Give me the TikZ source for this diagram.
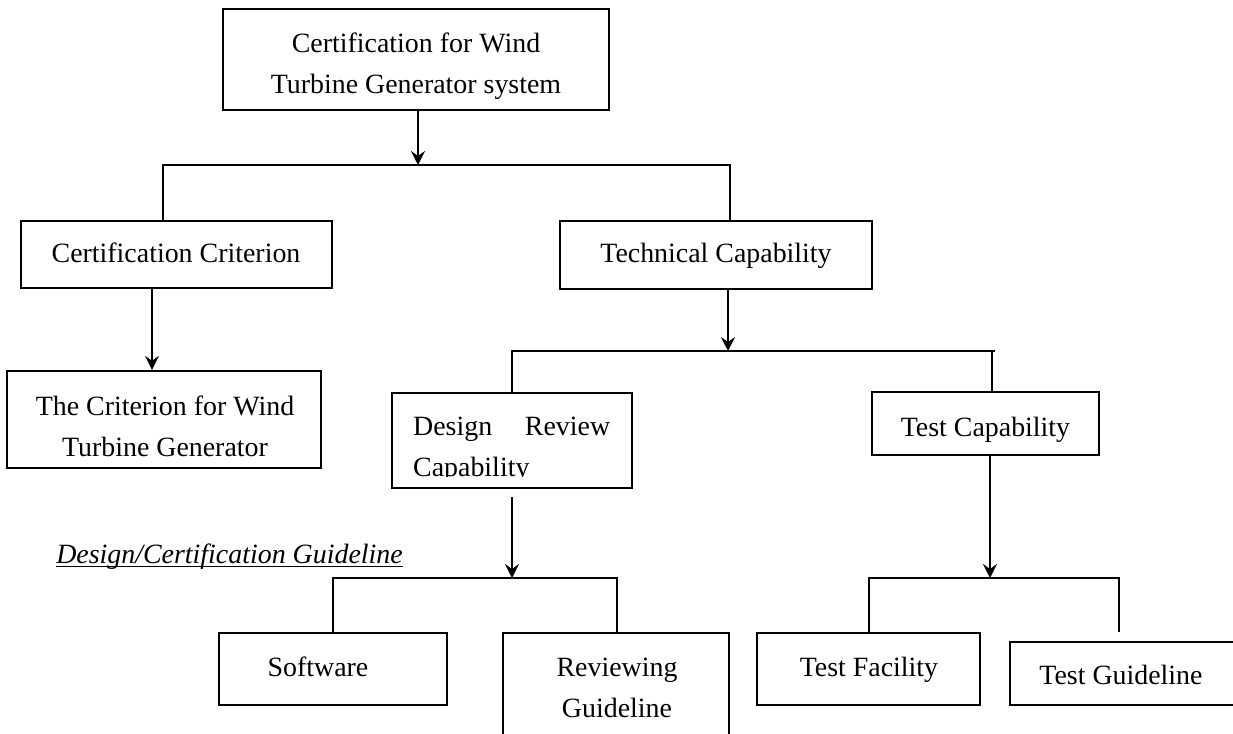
\documentclass[tikz,border=0pt]{standalone}
\usepackage{fontspec}
\setmainfont{Liberation Serif}
\usetikzlibrary{arrows.meta}
\begin{document}
\begin{tikzpicture}[x=1pt,y=-1pt,
  box/.style={draw, line width=2.3pt, inner sep=0pt},
  txt/.style={anchor=base, inner sep=0pt, font=\fontsize{27.9pt}{41pt}\selectfont},
  link/.style={line width=2.3pt},
  arr/.style={line width=2.3pt, -{Stealth[length=14pt,width=14pt,inset=5pt]}}]
\useasboundingbox (0,0) rectangle (1233,733);
\clip (0,0) rectangle (1233,733);

% boxes
\node[box, minimum width=386pt, minimum height=101pt] (top) at (416,59.5) {};
\node[txt] (topt) at (416,53) {\begin{tabular}[t]{@{}c@{}}Certification for Wind\\Turbine Generator system\end{tabular}};

\node[box, minimum width=311pt, minimum height=67pt] (cc) at (176.5,254.5) {};
\node[txt] (cct) at (176,262) {Certification Criterion};

\node[box, minimum width=312pt, minimum height=68pt] (tc) at (716,255) {};
\node[txt] (tct) at (716,262) {Technical Capability};

\node[box, minimum width=314pt, minimum height=97pt] (crit) at (164,419.5) {};
\node[txt] (critt) at (165,415) {\begin{tabular}[t]{@{}c@{}}The Criterion for Wind\\Turbine Generator\end{tabular}};

\node[box, minimum width=240pt, minimum height=95pt] (design) at (512,440.5) {};
\begin{scope}
  \clip (392,393) rectangle (632,476);
  \node[txt, anchor=base west] (designt) at (413,435) {\parbox[t]{197pt}{Design\hfill Review\\Capability}};
\end{scope}

\node[box, minimum width=227pt, minimum height=63pt] (tcap) at (985.5,423.5) {};
\node[txt] (tcapt) at (985.5,436) {Test Capability};

\node[box, minimum width=228pt, minimum height=72pt] (software) at (333,669) {};
\node[txt] (softwaret) at (318,676) {Software};

\node[box, minimum width=226pt, minimum height=127pt] (rev) at (616,696.5) {};
\node[txt] (revt) at (617,676) {\begin{tabular}[t]{@{}c@{}}Reviewing\\Guideline\end{tabular}};

\node[box, minimum width=223pt, minimum height=72pt] (tfac) at (868.5,669) {};
\node[txt] (tfact) at (869,676) {Test Facility};

\node[box, minimum width=240pt, minimum height=63pt] (tguide) at (1130,673.5) {};
\node[txt] (tguidet) at (1121,684) {Test Guideline};

% free label
\node[txt, font=\fontsize{27.9pt}{41pt}\selectfont\itshape] (gl) at (229.5,563) {Design/Certification Guideline};
\draw[line width=1.6pt] ([yshift=-3.5pt]gl.base west) -- ([yshift=-3.5pt]gl.base east);

% junction points
\coordinate (j1) at (418,165);
\coordinate (b1l) at (163,165);
\coordinate (b1r) at (730,165);
\coordinate (c1) at (152,0);
\coordinate (j2) at (728,351);
\coordinate (b2l) at (512,351);
\coordinate (b2r) at (992,351);
\coordinate (b2e) at (995,351);
\coordinate (d0) at (512,497);
\coordinate (j3) at (512,578);
\coordinate (b3l) at (333,578);
\coordinate (b3r) at (617,578);
\coordinate (j4) at (990,578);
\coordinate (b4l) at (869,578);
\coordinate (b4r) at (1119,578);
\coordinate (b4e) at (1119,632);

% connectors
\draw[arr] (top.south -| j1) -- (j1);
\draw[link] (cc.north -| b1l) -- (b1l) -- (b1r) -- (tc.north -| b1r);
\draw[arr] (cc.south -| c1) -- (crit.north -| c1);
\draw[arr] (tc.south -| j2) -- (j2);
\draw[link] (design.north -| b2l) -- (b2l) -- (b2e);
\draw[link] (b2r) -- (tcap.north -| b2r);
\draw[arr] (d0) -- (j3);
\draw[link] (software.north -| b3l) -- (b3l) -- (b3r) -- (rev.north -| b3r);
\draw[arr] (tcap.south -| j4) -- (j4);
\draw[link] (tfac.north -| b4l) -- (b4l) -- (b4r) -- (b4e);
\end{tikzpicture}
\end{document}
